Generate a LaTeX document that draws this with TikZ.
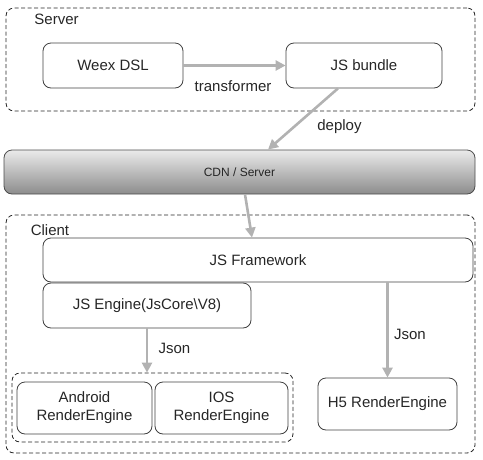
\documentclass[tikz,border=0pt]{standalone}
\usepackage{fontspec}
\setmainfont{Liberation Sans}
\usetikzlibrary{arrows.meta}
\tikzset{
  enginebox/.style={draw=black!75, line width=0.8pt, rounded corners=8pt,
    align=center, inner sep=0pt, text=black!85, font=\fontsize{15}{18}\selectfont},
  groupbox/.style={draw=black!85, line width=0.8pt, rounded corners=8pt,
    dash pattern=on 4pt off 2.5pt, inner sep=0pt},
  flowarrow/.style={draw=black!30, line width=2.6pt,
    -{Triangle[length=10pt,width=10pt]}},
  flowlabel/.style={text=black!85, inner sep=0pt, font=\fontsize{15}{18}\selectfont},
}
\begin{document}
\begin{tikzpicture}[x=1pt,y=-1pt]
                    \useasboundingbox (0,0) rectangle (483,459);
                    {

                    % Marking server group
                    \node [groupbox, minimum width=469pt, minimum height=103pt] (servergrp) at (240.5,59.5) {};%
                    \node [flowlabel] (serverlbl) at (56.5,19) {Server};%

                    % Marking client group
                    \node [groupbox, minimum width=469pt, minimum height=238pt] (clientgrp) at (240.5,334) {};%
                    \node [flowlabel] (clientlbl) at (50,230) {Client};%

                    % Marking native group
                    \node [groupbox, minimum width=281pt, minimum height=69pt] (nativegrp) at (152.5,407.5) {};%

                    % Marking box Weex DSL
                    \node [enginebox, minimum width=140pt, minimum height=45pt] (weexdsl) at (113,65.5) {Weex DSL};%

                    % Marking box JS bundle
                    \node [enginebox, minimum width=156pt, minimum height=45pt] (jsbundle) at (364,65.5) {JS bundle};%

                    % Marking bar CDN / Server
                    \node [enginebox, minimum width=471pt, minimum height=44pt, draw=black!70,
                           top color=black!8, bottom color=black!45,
                           font=\fontsize{12}{14}\selectfont] (cdn) at (239.5,172) {CDN / Server};%

                    % Marking box JS Framework
                    \node [enginebox, minimum width=430pt, minimum height=44pt] (jsframework) at (258,260) {JS Framework};%

                    % Marking box JS Engine
                    \node [enginebox, minimum width=208pt, minimum height=45pt] (jsengine) at (147,305.5) {JS Engine(JsCore\textbackslash V8)};%

                    % Marking box Android
                    \node [enginebox, minimum width=135pt, minimum height=52pt] (android) at (84.5,408) {Android\\RenderEngine};%

                    % Marking box IOS
                    \node [enginebox, minimum width=133pt, minimum height=52pt] (ios) at (221.5,408) {IOS\\RenderEngine};%

                    % Marking box H5
                    \node [enginebox, minimum width=139pt, minimum height=52pt] (hfive) at (387.5,404) {H5 RenderEngine};%

                    % Drawing arrow Weex DSL JS bundle
                    \draw [flowarrow] (weexdsl.east) -- (jsbundle.west);%
                    \node [flowlabel] (transformerlbl) at (233,86) {transformer};%

                    % Drawing arrow JS bundle CDN
                    \draw [flowarrow] ([xshift=-26pt]jsbundle.south) -- ([xshift=28.5pt]cdn.north);%
                    \node [flowlabel] (deploylbl) at (339.5,127) {deploy};%

                    % Drawing arrow CDN JS Framework
                    \draw [flowarrow] ([xshift=5.5pt]cdn.south) -- ([xshift=-6pt]jsframework.north);%

                    % Drawing arrow JS Engine native
                    \draw [flowarrow] (jsengine.south) -- (jsengine.south |- nativegrp.north);%
                    \node [flowlabel] (jsonleft) at (174.5,348) {Json};%

                    % Drawing arrow JS Framework H5
                    \draw [flowarrow] (hfive.north |- jsframework.south) -- (hfive.north);%
                    \node [flowlabel] (jsonright) at (410,334) {Json};%
                    }
\end{tikzpicture}
\end{document}
